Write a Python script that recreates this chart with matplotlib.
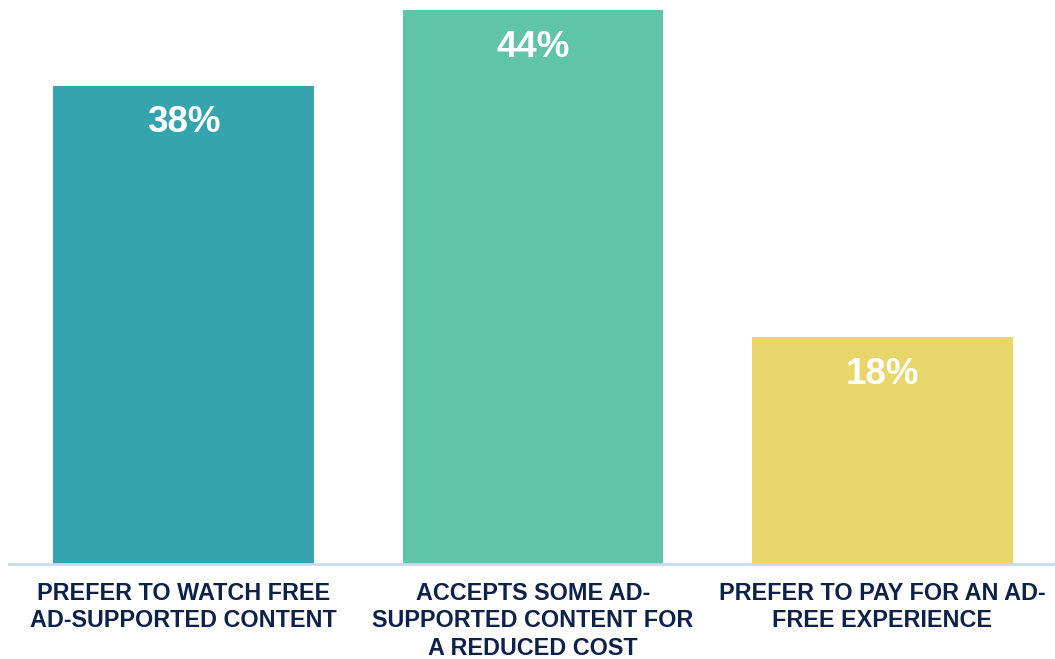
import matplotlib.pyplot as plt

# survey answers, share of respondents (%)
categories = [
    "PREFER TO WATCH FREE\nAD-SUPPORTED CONTENT",
    "ACCEPTS SOME AD-\nSUPPORTED CONTENT FOR\nA REDUCED COST",
    "PREFER TO PAY FOR AN AD-\nFREE EXPERIENCE",
]
values = [38, 44, 18]
colors = ["#36A4AF", "#60C5A6", "#E9D66B"]

fig = plt.figure(figsize=(10.55, 6.59), dpi=100)
ax = fig.add_axes([9 / 1055, 95.5 / 659, 1048 / 1055, 563.5 / 659])

x = range(len(values))
bars = ax.bar(x, values, width=0.747, color=colors)

ax.set_xlim(-0.5, 2.5)
ax.set_ylim(0, 44.8)

# percentage labels inside the bar tops
for b, v in zip(bars, values):
    ax.annotate(f"{v}%", (b.get_x() + b.get_width() / 2, v),
                xytext=(0, -37), textcoords="offset pixels",
                ha="center", va="center", color="white",
                fontsize=26.5, fontweight="bold", family="Liberation Sans")

# category names under the baseline
for i, c in enumerate(categories):
    ax.annotate(c, (i, 0), xytext=(0, -18), textcoords="offset pixels",
                ha="center", va="top", color="#0E2148",
                fontsize=16.8, fontweight="bold", family="Liberation Sans",
                linespacing=1.27)

for s in ["top", "right", "left"]:
    ax.spines[s].set_visible(False)
ax.spines["bottom"].set_color("#C6DAF2")
ax.spines["bottom"].set_linewidth(2)
ax.set_xticks([])
ax.set_yticks([])

fig.savefig("out.png", dpi=100)
